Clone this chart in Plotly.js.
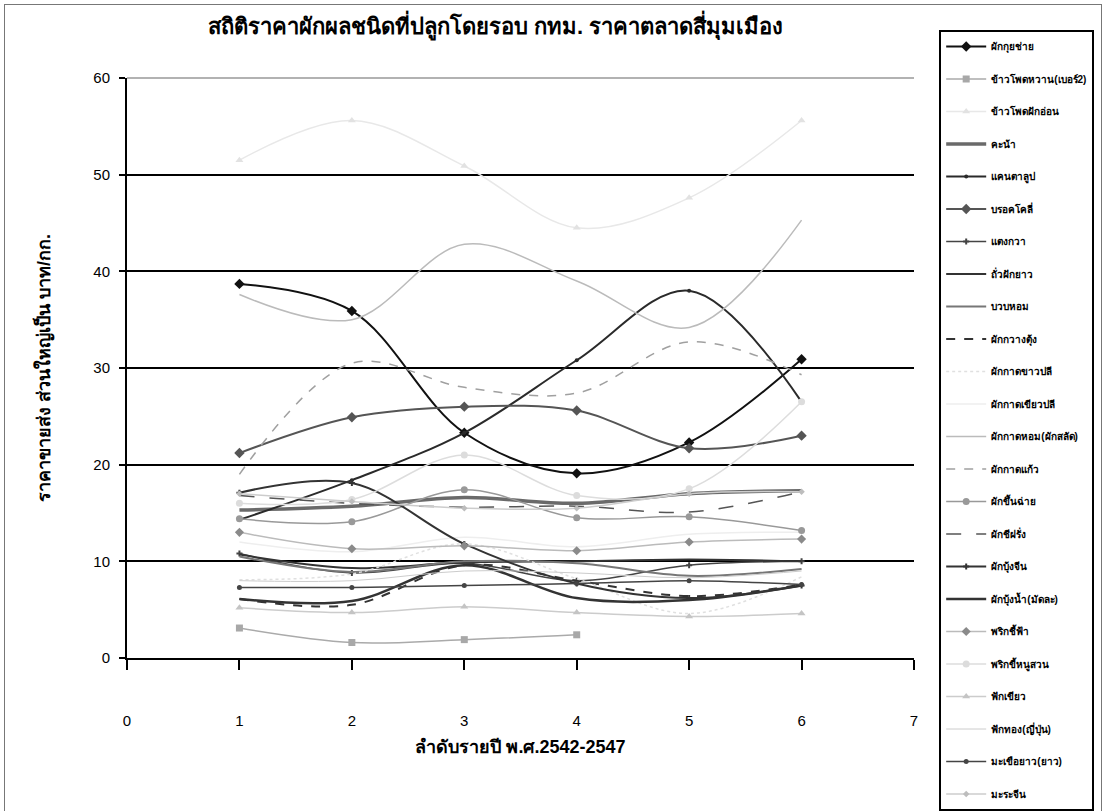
<!DOCTYPE html>
<html>
<head>
<meta charset="utf-8">
<script src="https://cdn.plot.ly/plotly-3.0.1.min.js"></script>
<style>
html,body{margin:0;padding:0;background:#fff;}
#chart{width:1106px;height:811px;}
#frame{position:absolute;left:4px;top:4px;width:1096px;height:812px;border:1px solid #777;pointer-events:none;}
</style>
</head>
<body>
<div id="chart"></div>
<div id="frame"></div>
<script>
// ---- data ----
const years = [1, 2, 3, 4, 5, 6];
const seriesNames = [
  "ผักกุยช่าย", "ข้าวโพดหวาน(เบอร์2)", "ข้าวโพดฝักอ่อน", "คะน้า", "แคนตาลูป",
  "บรอคโคลี่", "แตงกวา", "ถั่วฝักยาว", "บวบหอม", "ผักกวางตุ้ง",
  "ผักกาดขาวปลี", "ผักกาดเขียวปลี", "ผักกาดหอม(ผักสลัด)", "ผักกาดแก้ว", "ผักขึ้นฉ่าย",
  "ผักชีฝรั่ง", "ผักบุ้งจีน", "ผักบุ้งน้ำ(มัดละ)", "พริกชี้ฟ้า", "พริกขี้หนูสวน",
  "ฟักเขียว", "ฟักทอง(ญี่ปุ่น)", "มะเขือยาว(ยาว)", "มะระจีน"
];
const kuichai      = [38.7, 35.9, 23.3, 19.1, 22.3, 30.9];
const cornSweet    = [3.1, 1.6, 1.9, 2.4, null, null];
const cornBaby     = [51.5, 55.6, 50.9, 44.5, 47.6, 55.6];
const kale         = [15.3, 15.7, 16.6, 16.0, 17.0, 17.3];
const cantaloupe   = [14.3, 18.4, 23.3, 30.8, 38.0, 26.5];
const broccoli     = [21.2, 24.9, 26.0, 25.6, 21.7, 23.0];
const cucumber     = [10.8, 8.8, 9.8, 8.0, 9.6, 10.0];
const longBean     = [10.7, 9.3, 9.9, 10.0, 10.2, 10.0];
const luffa        = [10.5, 8.9, 10.0, 9.8, 8.5, 9.2];
const paakChoi     = [6.1, 5.5, 9.6, 8.0, 6.4, 7.6];
const cabbage      = [8.1, 8.7, 11.8, 8.2, 4.6, 8.4];
const mustardGreen = [12.0, 11.0, 12.5, 11.5, 12.8, 13.0];
const lettuce      = [37.6, 35.0, 42.8, 39.0, 34.2, 45.3];
const iceberg      = [19.0, 30.5, 28.0, 27.4, 32.7, 29.3];
const celery       = [14.4, 14.1, 17.4, 14.5, 14.6, 13.2];
const sawtooth     = [16.8, 16.0, 15.6, 15.7, 15.1, 17.2];
const morningGlory = [17.1, 18.1, 11.8, 7.7, 6.2, 7.5];
const waterSpinach = [6.1, 5.9, 9.6, 6.2, 6.0, 7.5];
const chiliLong    = [13.0, 11.3, 11.6, 11.1, 12.0, 12.3];
const chiliBird    = [16.0, 16.4, 21.0, 16.8, 17.5, 26.5];
const waxGourd     = [5.2, 4.7, 5.3, 4.7, 4.3, 4.6];
const pumpkin      = [8.0, 8.0, 9.0, 8.8, 8.3, 9.0];
const eggplant     = [7.3, 7.3, 7.5, 7.7, 8.0, 7.6];
const bitterGourd  = [17.0, 16.2, 15.5, 15.5, 17.0, 17.2];

const seriesValues = [kuichai, cornSweet, cornBaby, kale, cantaloupe, broccoli, cucumber,
  longBean, luffa, paakChoi, cabbage, mustardGreen, lettuce, iceberg, celery, sawtooth,
  morningGlory, waterSpinach, chiliLong, chiliBird, waxGourd, pumpkin, eggplant, bitterGourd];

// ---- styles ----
const styles = [
  {c:"#111111", w:2,   d:"solid", m:"diamond",      ms:8, mc:"#111111"},
  {c:"#aaaaaa", w:1.5, d:"solid", m:"square",       ms:7, mc:"#a8a8a8"},
  {c:"#e8e8e8", w:1.5, d:"solid", m:"triangle-up",  ms:7, mc:"#e2e2e2"},
  {c:"#6a6a6a", w:3.5, d:"solid", m:null},
  {c:"#2a2a2a", w:2,   d:"solid", m:"circle",       ms:4, mc:"#2a2a2a"},
  {c:"#555555", w:2,   d:"solid", m:"diamond",      ms:8, mc:"#555555"},
  {c:"#444444", w:1.5, d:"solid", m:"cross",        ms:5, mc:"#444444"},
  {c:"#333333", w:2,   d:"solid", m:null},
  {c:"#777777", w:2,   d:"solid", m:null},
  {c:"#333333", w:2,   d:"dash",  m:null},
  {c:"#e0e0e0", w:1.5, d:"dot",   m:null},
  {c:"#eeeeee", w:1.5, d:"solid", m:null},
  {c:"#bbbbbb", w:1.5, d:"solid", m:null},
  {c:"#a0a0a0", w:1.5, d:"dash",  m:null},
  {c:"#999999", w:1.5, d:"solid", m:"circle",       ms:7, mc:"#999999"},
  {c:"#555555", w:1.5, d:"longdash", m:null},
  {c:"#333333", w:2,   d:"solid", m:"cross",        ms:5, mc:"#333333"},
  {c:"#333333", w:2.5, d:"solid", m:null},
  {c:"#bbbbbb", w:1.5, d:"solid", m:"diamond",      ms:7, mc:"#8a8a8a"},
  {c:"#dddddd", w:1.5, d:"solid", m:"circle",       ms:7, mc:"#dcdcdc"},
  {c:"#cccccc", w:1.5, d:"solid", m:"triangle-up",  ms:7, mc:"#c4c4c4"},
  {c:"#cccccc", w:1,   d:"solid", m:null},
  {c:"#444444", w:1.5, d:"solid", m:"circle",       ms:5, mc:"#444444"},
  {c:"#cccccc", w:1.5, d:"solid", m:"diamond",      ms:5, mc:"#bdbdbd"}
];

const traces = seriesNames.map((name, i) => {
  const s = styles[i];
  const t = {
    x: years, y: seriesValues[i], name: name,
    type: "scatter",
    mode: s.m ? "lines+markers" : "lines",
    legendgroup: "g" + i,
    line: {color: s.c, width: s.w, dash: s.d, shape: "spline", smoothing: 1},
    connectgaps: false
  };
  if (s.m) t.marker = {symbol: s.m, size: s.ms, color: s.mc};
  return t;
});

const font = "Liberation Sans, Arial, Noto Sans, sans-serif";

const layout = {
  width: 1106, height: 811,
  margin: {l: 127, r: 188, t: 78, b: 153},
  paper_bgcolor: "#ffffff",
  plot_bgcolor: "#ffffff",
  showlegend: true,
  font: {family: font, color: "#000"},
  title: {
    text: "<b>สถิติราคาผักผลชนิดที่ปลูกโดยรอบ กทม. ราคาตลาดสี่มุมเมือง</b>",
    font: {size: 22, family: font, color: "#000"},
    x: 0.448, xref: "container", xanchor: "center",
    y: 0.968, yref: "container", yanchor: "middle"
  },
  xaxis: {
    range: [0, 7], dtick: 1, tick0: 0,
    showgrid: false, zeroline: false,
    showline: true, linecolor: "#000", linewidth: 2,
    ticks: "outside", ticklen: 10, tickwidth: 2, tickcolor: "#000",
    ticklabelstandoff: 38,
    tickfont: {size: 15, color: "#000"},
    title: {text: "<b>ลำดับรายปี พ.ศ.2542-2547</b>", font: {size: 18, color: "#000"}, standoff: 12}
  },
  yaxis: {
    range: [0, 60], dtick: 10, tick0: 0,
    showgrid: true, gridcolor: "#000", gridwidth: 2,
    zeroline: false,
    showline: true, linecolor: "#000", linewidth: 2,
    ticks: "outside", ticklen: 6, tickwidth: 2, tickcolor: "#000",
    ticklabelstandoff: 6,
    tickfont: {size: 15, color: "#000"},
    title: {text: "<b>ราคาขายส่ง ส่วนใหญ่เป็น บาท/กก.</b>", font: {size: 18, color: "#000"}, standoff: 38}
  },
  shapes: [
    {type: "line", xref: "paper", yref: "paper", x0: 0, x1: 1, y0: 1, y1: 1,
     line: {color: "#999", width: 1.5}, layer: "below"}
  ],
  legend: {
    x: 1.032, xanchor: "left", xref: "paper",
    y: 1.074, yanchor: "top", yref: "paper",
    bgcolor: "#ffffff",
    bordercolor: "#000", borderwidth: 2,
    font: {size: 10, color: "#000", family: font, weight: "bold"},
    tracegroupgap: 13.5,
    itemwidth: 40,
    traceorder: "grouped",
    maxheight: 820
  }
};

Plotly.newPlot("chart", traces, layout, {displayModeBar: false, staticPlot: true});
</script>
</body>
</html>
